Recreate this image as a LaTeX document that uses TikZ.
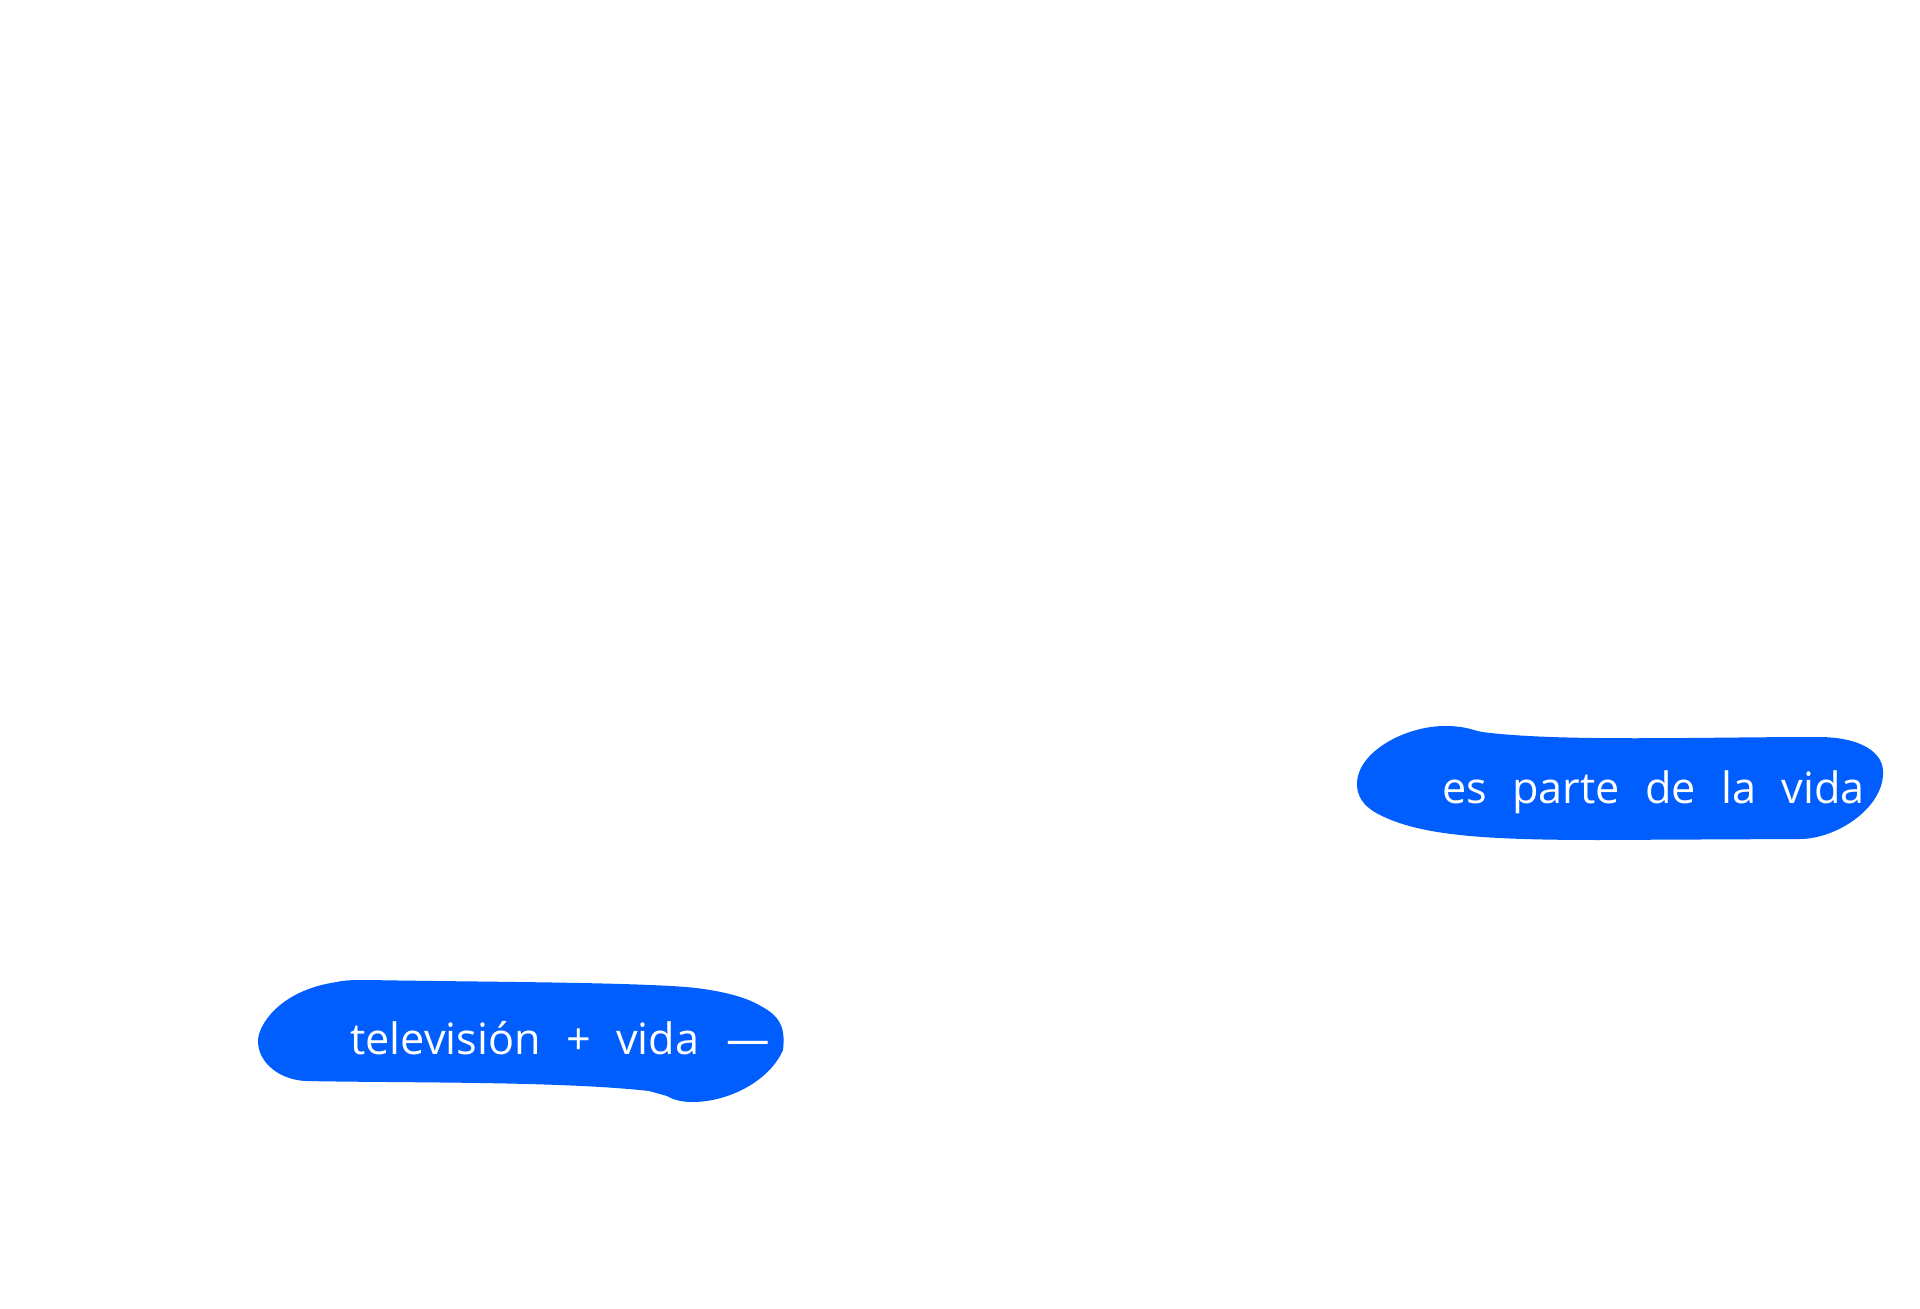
\documentclass[tikz,border=0pt]{standalone}
\usepackage{fontspec}
\setmainfont[WordSpace=2.25]{Open Sans}
\definecolor{blobblue}{RGB}{0,94,255}
\tikzset{
  blob/.style={fill=blobblue, draw=none},
  handtext/.style={text=white, font=\fontsize{21.6}{26}\selectfont, inner sep=0pt, anchor=base west}
}
\begin{document}
\begin{tikzpicture}[x=0.5pt,y=-0.5pt]
\fill[white] (0,0) rectangle (1920,1309);
\useasboundingbox (0,0) rectangle (1920,1309);
% right blob
\path[blob] (1445,726)
  .. controls (1465,726) and (1472,730) .. (1482,732)
  .. controls (1560,742) and (1700,737) .. (1818,737)
  .. controls (1860,737) and (1885,752) .. (1883,775)
  .. controls (1881,810) and (1835,839) .. (1800,839)
  -- (1600,840)
  .. controls (1480,840) and (1420,835) .. (1380,815)
  .. controls (1362,806) and (1357,795) .. (1357,784)
  .. controls (1357,752) and (1405,726) .. (1445,726) -- cycle;
% left blob
\path[blob] (337,982)
  .. controls (345,980) and (355,980) .. (367,980)
  .. controls (480,982) and (620,982) .. (686,987)
  .. controls (720,990) and (745,997) .. (759,1005)
  .. controls (778,1015) and (786,1025) .. (783,1050)
  .. controls (770,1080) and (730,1102) .. (692,1102)
  .. controls (680,1102) and (672,1099) .. (667,1096)
  -- (649,1091)
  .. controls (560,1081) and (400,1083) .. (306,1081)
  .. controls (280,1080) and (258,1063) .. (258,1041)
  .. controls (258,1025) and (280,990) .. (337,982) -- cycle;
\node[handtext] (t1) at (1442,803) {es parte de la vida};
\node[handtext] (t2) at (350,1054) {televisión + vida \scalebox{2.2}[1]{–}};
\end{tikzpicture}
\end{document}
